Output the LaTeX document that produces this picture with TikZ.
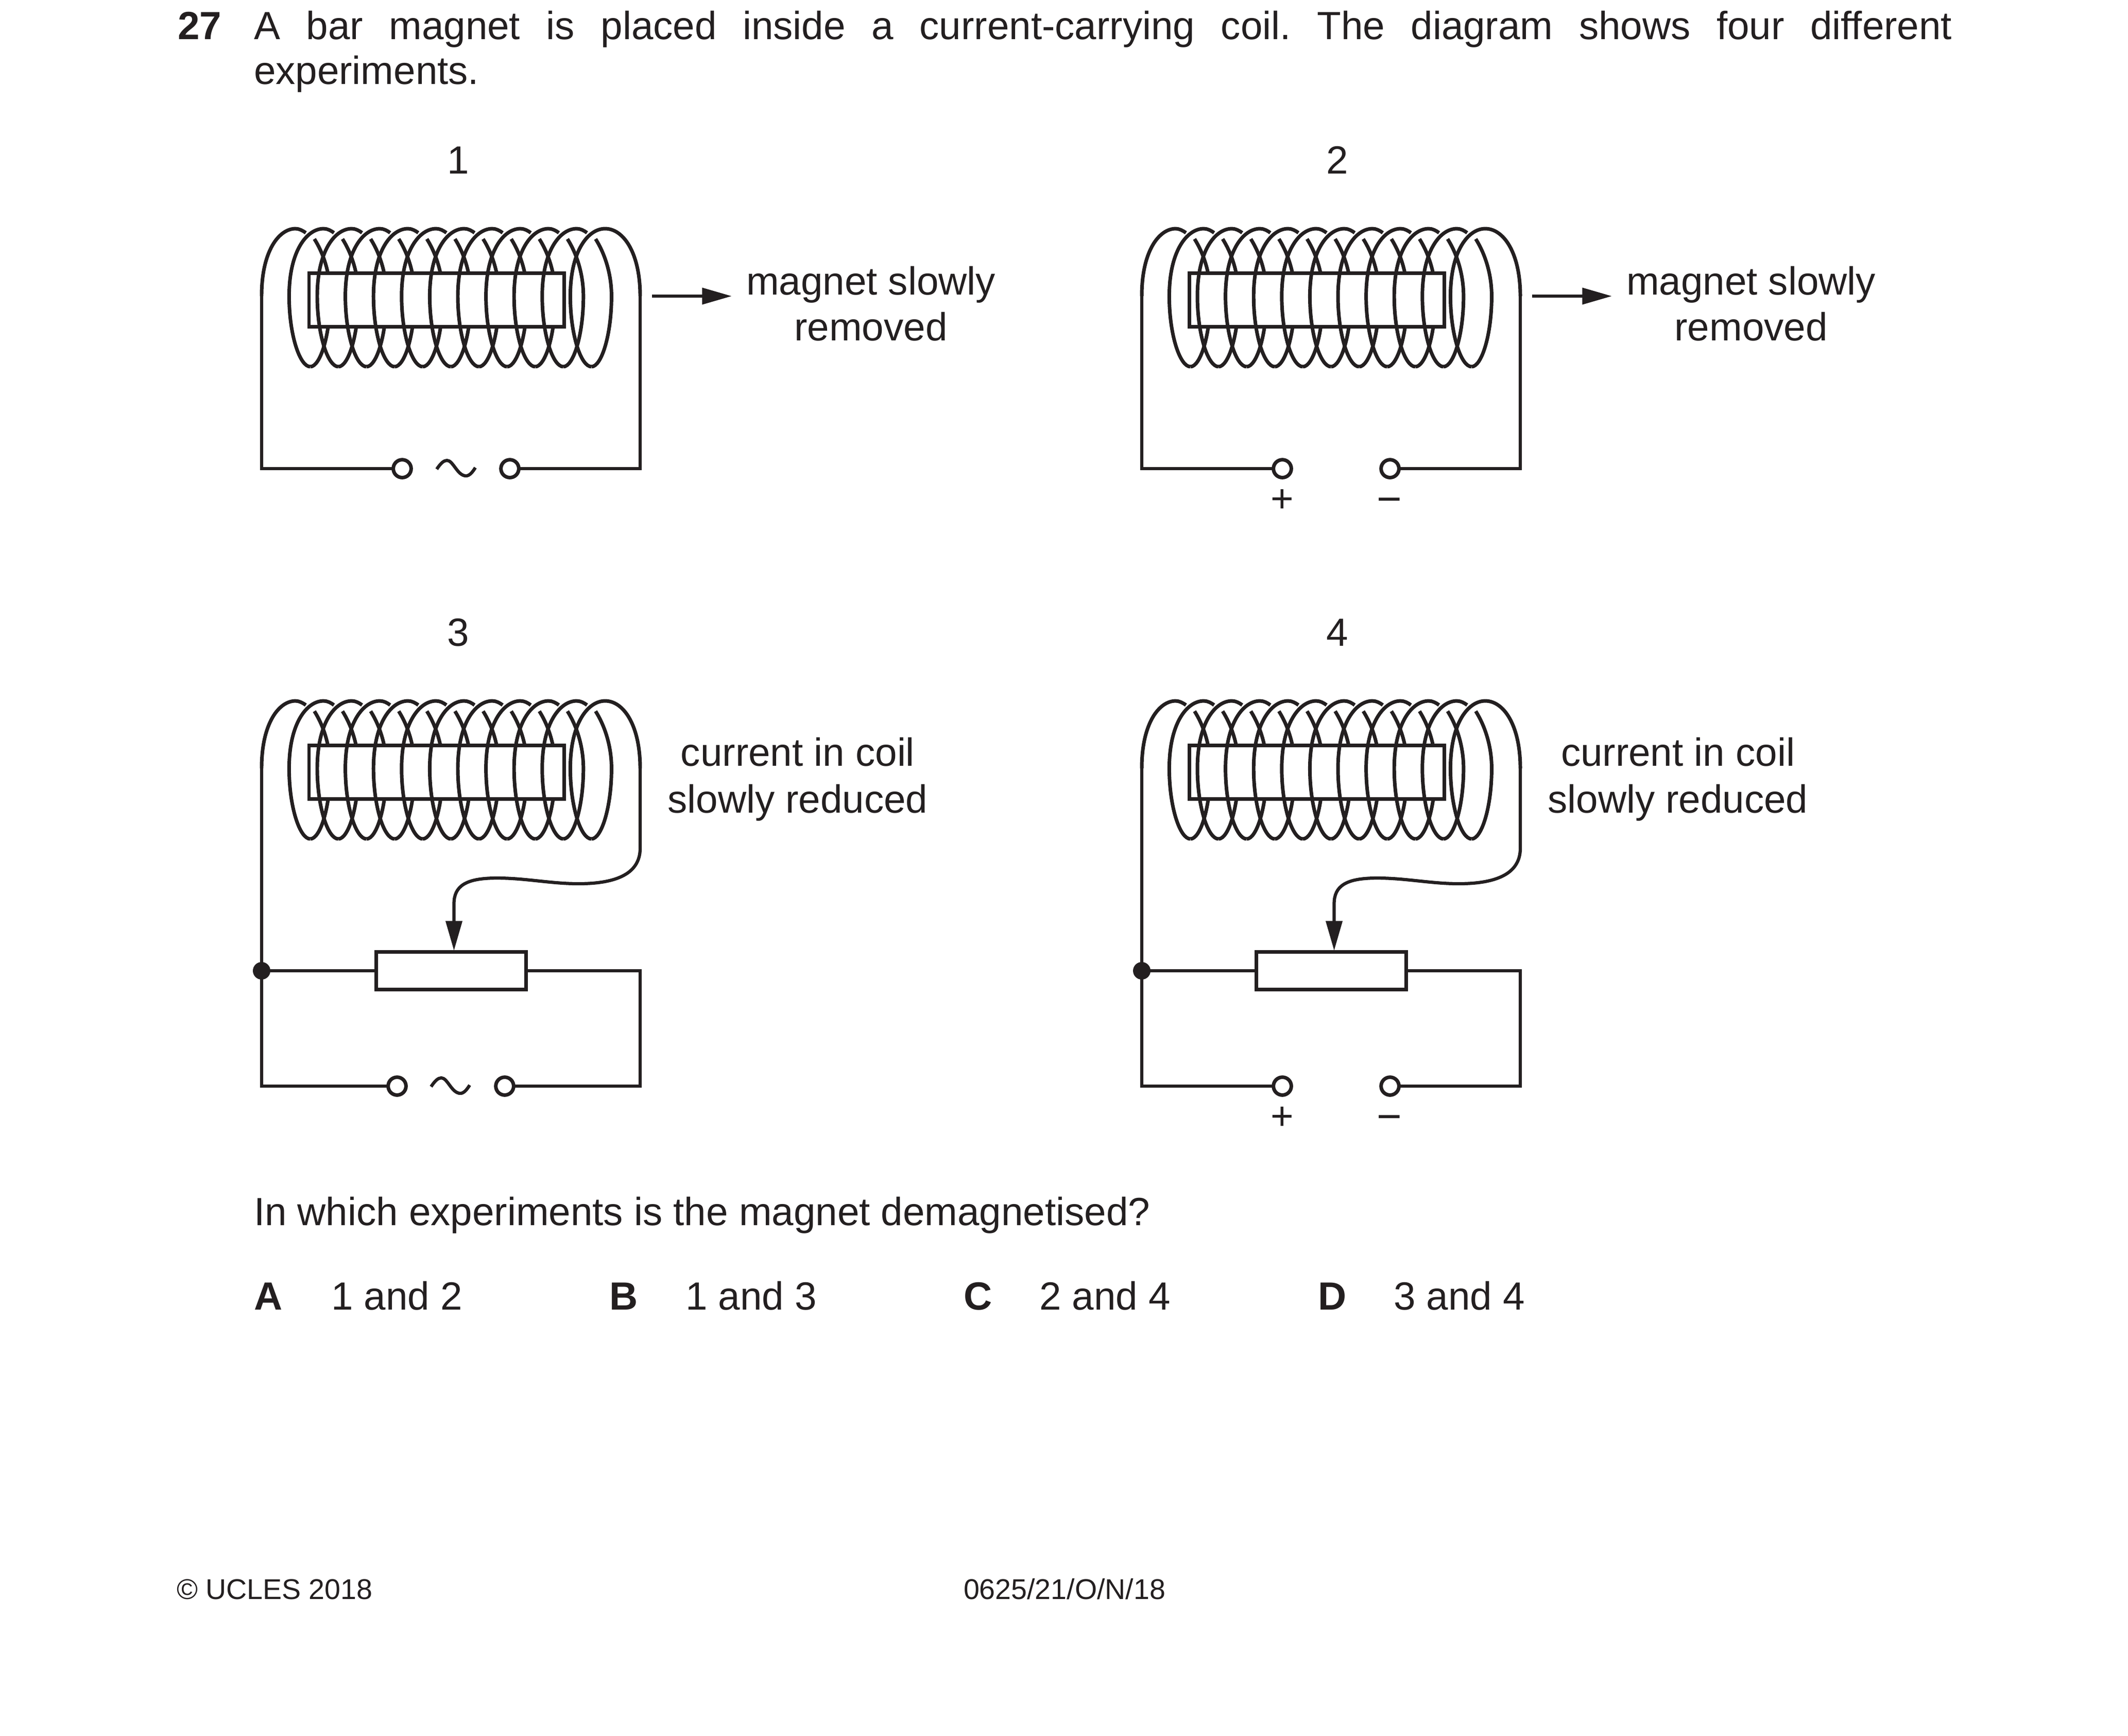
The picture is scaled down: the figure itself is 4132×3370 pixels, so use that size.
\documentclass[tikz,border=0pt]{standalone}
\usepackage{fontspec}
\setmainfont{Liberation Sans}
\usetikzlibrary{arrows.meta,positioning,calc}
\definecolor{ink}{rgb}{0.137,0.122,0.125}
\tikzset{
    wire/.style={line width=0.9bp,color=ink},
    strand/.style={line width=1bp,color=ink},
    terminal/.style={circle,draw=ink,fill=white,line width=1bp,minimum size=5bp,inner sep=0pt,outer sep=0pt},
    junction/.style={circle,fill=ink,minimum size=4.9bp,inner sep=0pt,outer sep=0pt},
    barbox/.style={rectangle,draw=ink,fill=white,line width=1bp,inner sep=0pt,outer sep=0pt},
    txt/.style={font=\fontsize{11bp}{12.7bp}\selectfont,text=ink,inner sep=0pt,outer sep=0pt},
    small/.style={font=\fontsize{8bp}{10bp}\selectfont,text=ink,inner sep=0pt,outer sep=0pt,anchor=base west},
    tip/.style={-{Triangle[length=8.3bp,width=4.5bp]}}
}
\begin{document}
\begin{tikzpicture}[x=0.14406bp,y=-0.14406bp]
            \useasboundingbox (0,0) rectangle (4132,3370);
            % question text
            \node[txt,anchor=base west,font=\fontsize{11bp}{12.7bp}\selectfont\bfseries] (qnum) at (345,76) {27};
            \node[txt,anchor=base west] (line1) at (493,76) {\frenchspacing\makebox[475bp][s]{A bar magnet is placed inside a current-carrying coil. The diagram shows four different}};
            \node[txt,anchor=base west] (line2) at (493,163) {experiments.};
            % the four coils
            \foreach \id/\dx/\dy in {1/0/0,2/1709/0,3/0/917,4/1709/917}{
            \begin{scope}[shift={(\dx,\dy)}]
                \coordinate (wl\id) at (508,575);
                \coordinate (wr\id) at (1243,575);
                \foreach \k in {0,...,10}
                \draw[strand,xshift=54.6*\k*0.14406bp] (610.4,464) .. controls (630,495) and (641.4,535) .. (641.4,575) .. controls (641.4,650) and (622,712) .. (602.4,712);
                \node[barbox,minimum width=71.4bp,minimum height=15bp,anchor=north west] (mag\id) at (600,530) {};
                \foreach \k in {0,...,9}
                \draw[strand,xshift=54.6*\k*0.14406bp] (602.4,712) .. controls (582,712) and (561.4,650) .. (561.4,575) .. controls (561.4,487) and (596,444) .. (628.4,444) .. controls (636,444) and (643,448) .. (648.4,452);
                \draw[strand] (wl\id) .. controls (507.8,487) and (542,444) .. (573.8,444) .. controls (581,444) and (588,448) .. (593.8,452);
                \draw[strand] (1148.4,712) .. controls (1128,712) and (1107.4,650) .. (1107.4,575) .. controls (1107.4,487) and (1142,444) .. (1175,444) .. controls (1210,444) and (1243,490) .. (wr\id);
            \end{scope}
            }
            % experiments 1 and 2
            \foreach \id/\dx in {1/0,2/1709}{
            \node[terminal] (ta\id) at (781+\dx,910) {};
            \node[terminal] (tb\id) at (990+\dx,910) {};
            \draw[wire] (wl\id) |- (ta\id.west);
            \draw[wire] (wr\id) |- (tb\id.east);
            \coordinate (as\id) at (1266+\dx,575);
            \coordinate (ae\id) at (1421+\dx,575);
            \draw[wire,tip] (as\id) -- (ae\id);
            \node[txt,anchor=base] (ma\id) at (1691+\dx,572) {magnet slowly};
            \node[txt,anchor=base] (mb\id) at (1691+\dx,661) {removed};
            }
            % experiments 3 and 4
            \foreach \id/\dx in {3/0,4/1709}{
            \node[barbox,minimum width=42bp,minimum height=10.5bp] (res\id) at (876+\dx,1885) {};
            \node[junction] (dot\id) at (508+\dx,1885) {};
            \coordinate (cr\id) at (1243+\dx,1885);
            \coordinate (tp\id) at (881.5+\dx,1846);
            \draw[wire] (dot\id) -- (res\id.west);
            \draw[wire,tip] (wr\id) -- (1243+\dx,1647) .. controls (1243+\dx,1700) and (1190+\dx,1716) .. (1123+\dx,1716) .. controls (1070+\dx,1716) and (1020+\dx,1705) .. (965+\dx,1705) .. controls (905+\dx,1705) and (881.5+\dx,1720) .. (881.5+\dx,1755) -- (tp\id);
            \node[txt,anchor=base] (ca\id) at (1549+\dx,1487) {current in coil};
            \node[txt,anchor=base] (cb\id) at (1549+\dx,1578) {slowly reduced};
            }
            \node[terminal] (ta3) at (771,2109) {};
            \node[terminal] (tb3) at (980,2109) {};
            \node[terminal] (ta4) at (2490,2109) {};
            \node[terminal] (tb4) at (2699,2109) {};
            \foreach \id in {3,4}{
            \draw[wire] (wl\id) |- (ta\id.west);
            \draw[wire] (res\id.east) -- (cr\id) |- (tb\id.east);
            }
            % a.c. supply signs
            \foreach \cx/\cy in {886/910,875/2109}
            \draw[wire,shift={(\cx,\cy)}] (-38,1) .. controls (-30,-11) and (-24,-16) .. (-18,-16) .. controls (-6,-16) and (2,14) .. (19,14) .. controls (26,14) and (32,6) .. (37,-2);
            % d.c. supply signs
            \foreach \id/\cy in {2/972,4/2171}{
            \node[txt] (plus\id) at (2490,\cy) {+};
            \node[txt,font=\fontsize{12bp}{12.7bp}\selectfont,yshift=-1.5bp] (minus\id) at (2698,\cy) {−};
            }
            % experiment numbers
            \foreach \id/\cx/\cy in {1/890/337,2/2597/337,3/890/1254,4/2597/1254}
            \node[txt,anchor=base] (num\id) at (\cx,\cy) {\id};
            % question and answers
            \node[txt,anchor=base west] (ask) at (493,2379) {In which experiments is the magnet demagnetised?};
            \foreach \opt/\lx/\ax/\ans in {A/493/643/1 and 2,B/1183/1331/1 and 3,C/1871/2018/2 and 4,D/2559/2706/3 and 4}{
            \node[txt,anchor=base west,font=\fontsize{11bp}{12.7bp}\selectfont\bfseries] (opt\opt) at (\lx,2543) {\opt};
            \node[txt,anchor=base west] (ans\opt) at (\ax,2543) {\ans};
            }
            % footer
            \node[small] (foota) at (343,3105) {© UCLES 2018};
            \node[small] (footb) at (1871,3105) {0625/21/O/N/18};
        \end{tikzpicture}
\end{document}
